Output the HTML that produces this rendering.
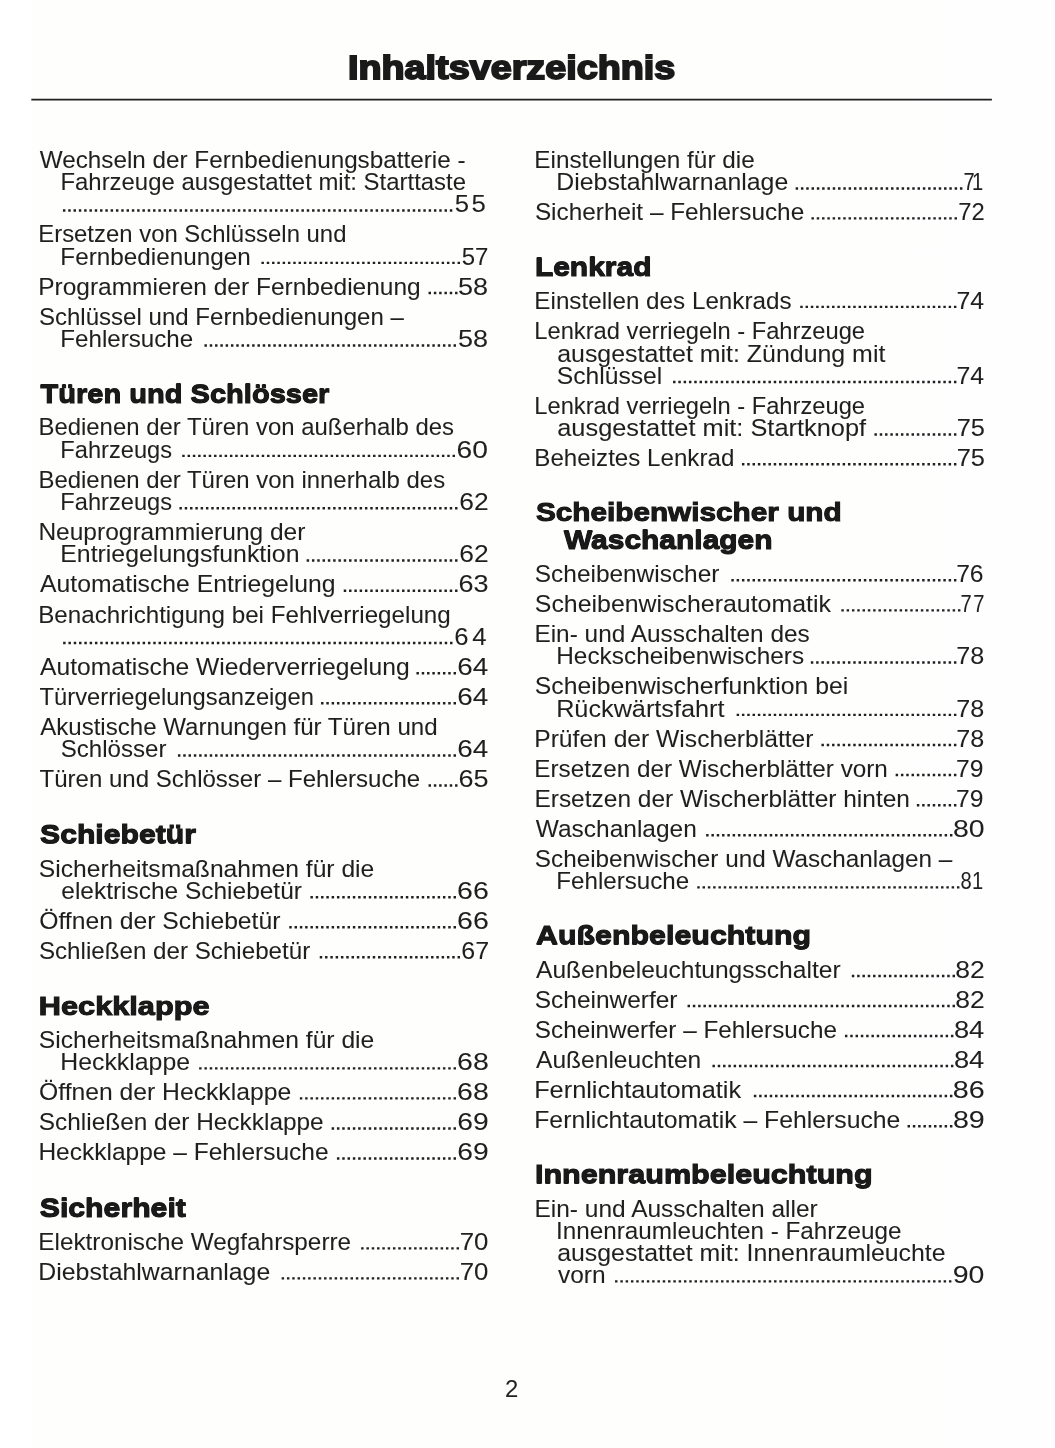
<!DOCTYPE html>
<html lang="de"><head><meta charset="utf-8"><title>Inhaltsverzeichnis</title>
<style>
html,body{margin:0;padding:0;}
body{width:1055px;height:1448px;position:relative;overflow:hidden;background:#fff;font-family:"Liberation Sans",sans-serif;}
#pg{position:absolute;left:31px;top:0;width:1024px;height:1448px;background:linear-gradient(90deg,#fefefc 0,#fefefc 40%,#fefefe 100%);}
#dots{position:absolute;left:0;top:0;}
#txt{position:absolute;left:0;top:0;width:1055px;height:1448px;will-change:transform;}
span{position:absolute;white-space:nowrap;transform-origin:0 0;line-height:1em;display:block;}
.b{font-size:23.4px;color:#1f1f1f;-webkit-text-stroke:0.05px #1f1f1f;}
.h{font-size:25.9px;font-weight:bold;color:#1a1a1a;-webkit-text-stroke:1.0px #1a1a1a;text-shadow:0 0.45px 0 #1a1a1a,0 -0.45px 0 #1a1a1a;}
.t{font-size:33.6px;font-weight:bold;color:#1a1a1a;-webkit-text-stroke:1.9px #1a1a1a;}
</style></head>
<body>
<div id="pg"></div>
<svg id="dots" width="1055" height="1448" viewBox="0 0 1055 1448"><path d="M31.3 99.6H991.9" fill="none" stroke="#202020" stroke-width="1.8"/><g fill="none" stroke="#1f1f1f" stroke-width="2.45" stroke-dasharray="2.45 2.85"><path d="M452.30 210.57H62.59"/><path d="M460.00 262.88H261.26"/><path d="M457.50 293.07H428.52"/><path d="M456.00 345.48H204.22"/><path d="M455.00 455.88H182.00"/><path d="M457.50 508.18H179.19"/><path d="M457.50 560.48H306.51"/><path d="M457.50 590.67H343.64"/><path d="M452.50 642.98H62.79"/><path d="M456.00 673.17H416.42"/><path d="M456.00 703.27H320.92"/><path d="M456.00 755.48H177.69"/><path d="M457.50 785.48H428.52"/><path d="M456.00 897.17H310.31"/><path d="M456.00 927.17H289.10"/><path d="M460.00 957.17H319.62"/><path d="M456.00 1068.38H198.91"/><path d="M456.00 1098.38H299.71"/><path d="M456.00 1128.47H331.54"/><path d="M456.00 1158.58H336.84"/><path d="M459.00 1248.38H361.06"/><path d="M459.00 1278.38H281.49"/><path d="M962.40 188.47H795.50"/><path d="M957.00 218.38H811.32"/><path d="M956.40 306.88H800.11"/><path d="M956.40 382.07H672.79"/><path d="M956.40 434.48H874.38"/><path d="M956.40 464.27H741.75"/><path d="M956.40 580.27H731.14"/><path d="M960.40 610.38H841.24"/><path d="M956.40 662.58H810.71"/><path d="M956.40 714.88H736.44"/><path d="M956.40 744.98H821.32"/><path d="M956.40 775.08H895.60"/><path d="M956.40 805.17H916.81"/><path d="M952.40 835.27H705.92"/><path d="M959.40 887.38H697.00"/><path d="M955.00 975.98H851.75"/><path d="M955.00 1005.98H687.30"/><path d="M953.40 1035.97H844.85"/><path d="M953.40 1066.08H712.23"/><path d="M952.40 1096.08H753.66"/><path d="M952.40 1126.17H907.51"/><path d="M951.40 1281.38H614.74"/></g></svg>
<div id="txt">
<span class="b" style="left:39px;top:149px;transform:translate(0.69px,0.16px) scaleX(1.0375)">Wechseln der Fernbedienungsbatterie -</span>
<span class="b" style="left:60px;top:171px;transform:translate(0.41px,0.26px) scaleX(1.0228)">Fahrzeuge ausgestattet mit: Starttaste</span>
<span class="b" style="left:454px;top:193px;transform:translate(0.82px,0.39px) scaleX(1.1);letter-spacing:2.15px">55</span>
<span class="b" style="left:38px;top:223px;transform:translate(0.23px,0.16px) scaleX(1.0217)">Ersetzen von Schlüsseln und</span>
<span class="b" style="left:60px;top:245px;transform:translate(0.35px,0.66px) scaleX(1.0380)">Fernbedienungen</span>
<span class="b" style="left:461px;top:245px;transform:translate(0.79px,0.66px) scaleX(1.0250)">57</span>
<span class="b" style="left:38px;top:275px;transform:translate(0.19px,0.86px) scaleX(1.0469)">Programmieren der Fernbedienung</span>
<span class="b" style="left:458px;top:275px;transform:translate(0.04px,0.86px) scaleX(1.1548)">58</span>
<span class="b" style="left:38px;top:306px;transform:translate(0.91px,0.06px) scaleX(1.0281)">Schlüssel und Fernbedienungen –</span>
<span class="b" style="left:60px;top:328px;transform:translate(0.33px,0.26px) scaleX(1.0318)">Fehlersuche</span>
<span class="b" style="left:458px;top:328px;transform:translate(0.04px,0.26px) scaleX(1.1548)">58</span>
<span class="h" style="left:40px;top:381px;transform:translate(0.58px,0.87px) scaleX(1.1216)">Türen und Schlösser</span>
<span class="b" style="left:38px;top:416px;transform:translate(0.43px,0.46px) scaleX(1.0223)">Bedienen der Türen von außerhalb des</span>
<span class="b" style="left:60px;top:438px;transform:translate(0.32px,0.66px) scaleX(1.0104)">Fahrzeugs</span>
<span class="b" style="left:456px;top:438px;transform:translate(0.49px,0.66px) scaleX(1.2063)">60</span>
<span class="b" style="left:38px;top:468px;transform:translate(0.42px,0.76px) scaleX(1.0231)">Bedienen der Türen von innerhalb des</span>
<span class="b" style="left:60px;top:490px;transform:translate(0.32px,0.96px) scaleX(1.0104)">Fahrzeugs</span>
<span class="b" style="left:459px;top:490px;transform:translate(0.21px,0.96px) scaleX(1.1287)">62</span>
<span class="b" style="left:38px;top:521px;transform:translate(0.41px,0.16px) scaleX(1.0478)">Neuprogrammierung der</span>
<span class="b" style="left:60px;top:543px;transform:translate(0.21px,0.26px) scaleX(1.0636)">Entriegelungsfunktion</span>
<span class="b" style="left:459px;top:543px;transform:translate(0.21px,0.26px) scaleX(1.1287)">62</span>
<span class="b" style="left:40px;top:573px;transform:translate(0.02px,0.46px) scaleX(1.0574)">Automatische Entriegelung</span>
<span class="b" style="left:458px;top:573px;transform:translate(0.49px,0.46px) scaleX(1.1560)">63</span>
<span class="b" style="left:38px;top:603px;transform:translate(0.25px,0.56px) scaleX(1.0332)">Benachrichtigung bei Fehlverriegelung</span>
<span class="b" style="left:454px;top:625px;transform:translate(0.29px,0.79px) scaleX(1.1);letter-spacing:3.35px">64</span>
<span class="b" style="left:40px;top:655px;transform:translate(0.05px,0.96px) scaleX(1.0530)">Automatische Wiederverriegelung</span>
<span class="b" style="left:457px;top:655px;transform:translate(0.27px,0.96px) scaleX(1.1900)">64</span>
<span class="b" style="left:39px;top:686px;transform:translate(0.58px,0.06px) scaleX(1.0145)">Türverriegelungsanzeigen</span>
<span class="b" style="left:457px;top:686px;transform:translate(0.27px,0.06px) scaleX(1.1900)">64</span>
<span class="b" style="left:40px;top:716px;transform:translate(0.16px,0.16px) scaleX(1.0292)">Akustische Warnungen für Türen und</span>
<span class="b" style="left:60px;top:738px;transform:translate(0.75px,0.26px) scaleX(1.0295)">Schlösser</span>
<span class="b" style="left:457px;top:738px;transform:translate(0.27px,0.26px) scaleX(1.1900)">64</span>
<span class="b" style="left:39px;top:768px;transform:translate(0.52px,0.26px) scaleX(1.0273)">Türen und Schlösser – Fehlersuche</span>
<span class="b" style="left:458px;top:768px;transform:translate(0.55px,0.26px) scaleX(1.1573)">65</span>
<span class="h" style="left:40px;top:822px;transform:translate(0.03px,0.47px) scaleX(1.1649)">Schiebetür</span>
<span class="b" style="left:38px;top:857px;transform:translate(0.76px,0.86px) scaleX(1.0533)">Sicherheitsmaßnahmen für die</span>
<span class="b" style="left:61px;top:879px;transform:translate(0.28px,0.96px) scaleX(1.0456)">elektrische Schiebetür</span>
<span class="b" style="left:457px;top:879px;transform:translate(0.04px,0.96px) scaleX(1.2203)">66</span>
<span class="b" style="left:39px;top:909px;transform:translate(0.16px,0.96px) scaleX(1.0563)">Öffnen der Schiebetür</span>
<span class="b" style="left:457px;top:909px;transform:translate(0.04px,0.96px) scaleX(1.2203)">66</span>
<span class="b" style="left:38px;top:939px;transform:translate(0.92px,0.96px) scaleX(1.0331)">Schließen der Schiebetür</span>
<span class="b" style="left:461px;top:939px;transform:translate(0.28px,0.96px) scaleX(1.0690)">67</span>
<span class="h" style="left:38px;top:993px;transform:translate(0.82px,0.97px) scaleX(1.1860)">Heckklappe</span>
<span class="b" style="left:38px;top:1029px;transform:translate(0.76px,0.26px) scaleX(1.0533)">Sicherheitsmaßnahmen für die</span>
<span class="b" style="left:60px;top:1051px;transform:translate(0.29px,0.16px) scaleX(1.0614)">Heckklappe</span>
<span class="b" style="left:457px;top:1051px;transform:translate(0.04px,0.16px) scaleX(1.2194)">68</span>
<span class="b" style="left:39px;top:1081px;transform:translate(0.02px,0.16px) scaleX(1.0557)">Öffnen der Heckklappe</span>
<span class="b" style="left:457px;top:1081px;transform:translate(0.04px,0.16px) scaleX(1.2194)">68</span>
<span class="b" style="left:38px;top:1111px;transform:translate(0.81px,0.26px) scaleX(1.0433)">Schließen der Heckklappe</span>
<span class="b" style="left:457px;top:1111px;transform:translate(0.24px,0.26px) scaleX(1.2082)">69</span>
<span class="b" style="left:38px;top:1141px;transform:translate(0.40px,0.36px) scaleX(1.0480)">Heckklappe – Fehlersuche</span>
<span class="b" style="left:457px;top:1141px;transform:translate(0.24px,0.36px) scaleX(1.2082)">69</span>
<span class="h" style="left:39px;top:1195px;transform:translate(0.76px,0.67px) scaleX(1.1673)">Sicherheit</span>
<span class="b" style="left:38px;top:1231px;transform:translate(0.31px,0.16px) scaleX(1.0384)">Elektronische Wegfahrsperre</span>
<span class="b" style="left:459px;top:1231px;transform:translate(0.72px,0.16px) scaleX(1.1069)">70</span>
<span class="b" style="left:38px;top:1261px;transform:translate(0.32px,0.16px) scaleX(1.0616)">Diebstahlwarnanlage</span>
<span class="b" style="left:459px;top:1261px;transform:translate(0.72px,0.16px) scaleX(1.1069)">70</span>
<span class="b" style="left:534px;top:149px;transform:translate(0.26px,0.16px) scaleX(1.0402)">Einstellungen für die</span>
<span class="b" style="left:556px;top:171px;transform:translate(0.32px,0.26px) scaleX(1.0616)">Diebstahlwarnanlage</span>
<span class="b" style="left:963px;top:171px;transform:translate(0.44px,0.29px) scaleX(0.86);letter-spacing:-2.96px">71</span>
<span class="b" style="left:534px;top:201px;transform:translate(0.88px,0.16px) scaleX(1.0408)">Sicherheit – Fehlersuche</span>
<span class="b" style="left:958px;top:201px;transform:translate(0.16px,0.16px) scaleX(1.0179)">72</span>
<span class="h" style="left:534px;top:254px;transform:translate(0.90px,0.57px) scaleX(1.1572)">Lenkrad</span>
<span class="b" style="left:534px;top:289px;transform:translate(0.36px,0.66px) scaleX(1.0356)">Einstellen des Lenkrads</span>
<span class="b" style="left:956px;top:289px;transform:translate(0.57px,0.66px) scaleX(1.0612)">74</span>
<span class="b" style="left:534px;top:320px;transform:translate(0.31px,0.46px) scaleX(1.0133)">Lenkrad verriegeln - Fahrzeuge</span>
<span class="b" style="left:557px;top:342px;transform:translate(0.17px,0.66px) scaleX(1.0650)">ausgestattet mit: Zündung mit</span>
<span class="b" style="left:556px;top:364px;transform:translate(0.77px,0.86px) scaleX(1.0542)">Schlüssel</span>
<span class="b" style="left:956px;top:364px;transform:translate(0.57px,0.86px) scaleX(1.0612)">74</span>
<span class="b" style="left:534px;top:395px;transform:translate(0.31px,0.06px) scaleX(1.0133)">Lenkrad verriegeln - Fahrzeuge</span>
<span class="b" style="left:557px;top:417px;transform:translate(0.23px,0.26px) scaleX(1.0847)">ausgestattet mit: Startknopf</span>
<span class="b" style="left:956px;top:417px;transform:translate(0.70px,0.26px) scaleX(1.0866)">75</span>
<span class="b" style="left:534px;top:447px;transform:translate(0.30px,0.06px) scaleX(1.0324)">Beheiztes Lenkrad</span>
<span class="b" style="left:956px;top:447px;transform:translate(0.70px,0.06px) scaleX(1.0866)">75</span>
<span class="h" style="left:535px;top:499px;transform:translate(0.88px,0.97px) scaleX(1.1489)">Scheibenwischer und</span>
<span class="h" style="left:563px;top:527px;transform:translate(0.90px,0.57px) scaleX(1.1573)">Waschanlagen</span>
<span class="b" style="left:534px;top:563px;transform:translate(0.81px,0.06px) scaleX(1.0438)">Scheibenwischer</span>
<span class="b" style="left:956px;top:563px;transform:translate(0.13px,0.06px) scaleX(1.0562)">76</span>
<span class="b" style="left:534px;top:593px;transform:translate(0.82px,0.16px) scaleX(1.0641)">Scheibenwischerautomatik</span>
<span class="b" style="left:960px;top:593px;transform:translate(0.44px,0.19px) scaleX(0.86);letter-spacing:1.79px">77</span>
<span class="b" style="left:534px;top:623px;transform:translate(0.39px,0.26px) scaleX(1.0433)">Ein- und Ausschalten des</span>
<span class="b" style="left:556px;top:645px;transform:translate(0.23px,0.36px) scaleX(1.0422)">Heckscheibenwischers</span>
<span class="b" style="left:956px;top:645px;transform:translate(0.24px,0.36px) scaleX(1.0761)">78</span>
<span class="b" style="left:534px;top:675px;transform:translate(0.80px,0.46px) scaleX(1.0570)">Scheibenwischerfunktion bei</span>
<span class="b" style="left:556px;top:697px;transform:translate(0.15px,0.66px) scaleX(1.0788)">Rückwärtsfahrt</span>
<span class="b" style="left:956px;top:697px;transform:translate(0.24px,0.66px) scaleX(1.0761)">78</span>
<span class="b" style="left:534px;top:727px;transform:translate(0.24px,0.76px) scaleX(1.0530)">Prüfen der Wischerblätter</span>
<span class="b" style="left:956px;top:727px;transform:translate(0.24px,0.76px) scaleX(1.0761)">78</span>
<span class="b" style="left:534px;top:757px;transform:translate(0.34px,0.86px) scaleX(1.0380)">Ersetzen der Wischerblätter vorn</span>
<span class="b" style="left:956px;top:757px;transform:translate(0.10px,0.86px) scaleX(1.0541)">79</span>
<span class="b" style="left:534px;top:787px;transform:translate(0.40px,0.96px) scaleX(1.0466)">Ersetzen der Wischerblätter hinten</span>
<span class="b" style="left:956px;top:787px;transform:translate(0.10px,0.96px) scaleX(1.0541)">79</span>
<span class="b" style="left:535px;top:818px;transform:translate(0.81px,0.06px) scaleX(1.0460)">Waschanlagen</span>
<span class="b" style="left:952px;top:818px;transform:translate(0.93px,0.06px) scaleX(1.2173)">80</span>
<span class="b" style="left:534px;top:848px;transform:translate(0.86px,0.16px) scaleX(1.0379)">Scheibenwischer und Waschanlagen –</span>
<span class="b" style="left:556px;top:870px;transform:translate(0.26px,0.16px) scaleX(1.0327)">Fehlersuche</span>
<span class="b" style="left:960px;top:870px;transform:translate(0.48px,0.19px) scaleX(0.86);letter-spacing:0.48px">81</span>
<span class="h" style="left:536px;top:923px;transform:translate(0.07px,0.17px) scaleX(1.1732)">Außenbeleuchtung</span>
<span class="b" style="left:536px;top:958px;transform:translate(0.03px,0.76px) scaleX(1.0502)">Außenbeleuchtungsschalter</span>
<span class="b" style="left:955px;top:958px;transform:translate(0.28px,0.76px) scaleX(1.1341)">82</span>
<span class="b" style="left:534px;top:988px;transform:translate(0.76px,0.76px) scaleX(1.0457)">Scheinwerfer</span>
<span class="b" style="left:955px;top:988px;transform:translate(0.28px,0.76px) scaleX(1.1341)">82</span>
<span class="b" style="left:534px;top:1018px;transform:translate(0.86px,0.76px) scaleX(1.0372)">Scheinwerfer – Fehlersuche</span>
<span class="b" style="left:953px;top:1018px;transform:translate(0.93px,0.76px) scaleX(1.1677)">84</span>
<span class="b" style="left:536px;top:1048px;transform:translate(0.02px,0.86px) scaleX(1.0501)">Außenleuchten</span>
<span class="b" style="left:953px;top:1048px;transform:translate(0.93px,0.86px) scaleX(1.1677)">84</span>
<span class="b" style="left:534px;top:1078px;transform:translate(0.15px,0.86px) scaleX(1.0828)">Fernlichtautomatik</span>
<span class="b" style="left:952px;top:1078px;transform:translate(0.77px,0.86px) scaleX(1.2301)">86</span>
<span class="b" style="left:534px;top:1108px;transform:translate(0.24px,0.96px) scaleX(1.0588)">Fernlichtautomatik – Fehlersuche</span>
<span class="b" style="left:952px;top:1108px;transform:translate(0.93px,0.96px) scaleX(1.2245)">89</span>
<span class="h" style="left:534px;top:1162px;transform:translate(0.89px,0.47px) scaleX(1.1801)">Innenraumbeleuchtung</span>
<span class="b" style="left:534px;top:1197px;transform:translate(0.41px,0.66px) scaleX(1.0477)">Ein- und Ausschalten aller</span>
<span class="b" style="left:555px;top:1219px;transform:translate(0.96px,0.86px) scaleX(1.0383)">Innenraumleuchten - Fahrzeuge</span>
<span class="b" style="left:557px;top:1241px;transform:translate(0.15px,0.96px) scaleX(1.0632)">ausgestattet mit: Innenraumleuchte</span>
<span class="b" style="left:557px;top:1264px;transform:translate(0.99px,0.16px) scaleX(1.0470)">vorn</span>
<span class="b" style="left:952px;top:1264px;transform:translate(0.73px,0.16px) scaleX(1.2197)">90</span>
<span class="t" style="left:348px;top:50px;transform:translate(0.00px,0.80px) scaleX(1.1243)">Inhaltsverzeichnis</span>
<span class="b" style="left:504px;top:1378px;transform:translate(0.90px,0.16px) scaleX(1.0227)">2</span>
</div>
</body></html>
